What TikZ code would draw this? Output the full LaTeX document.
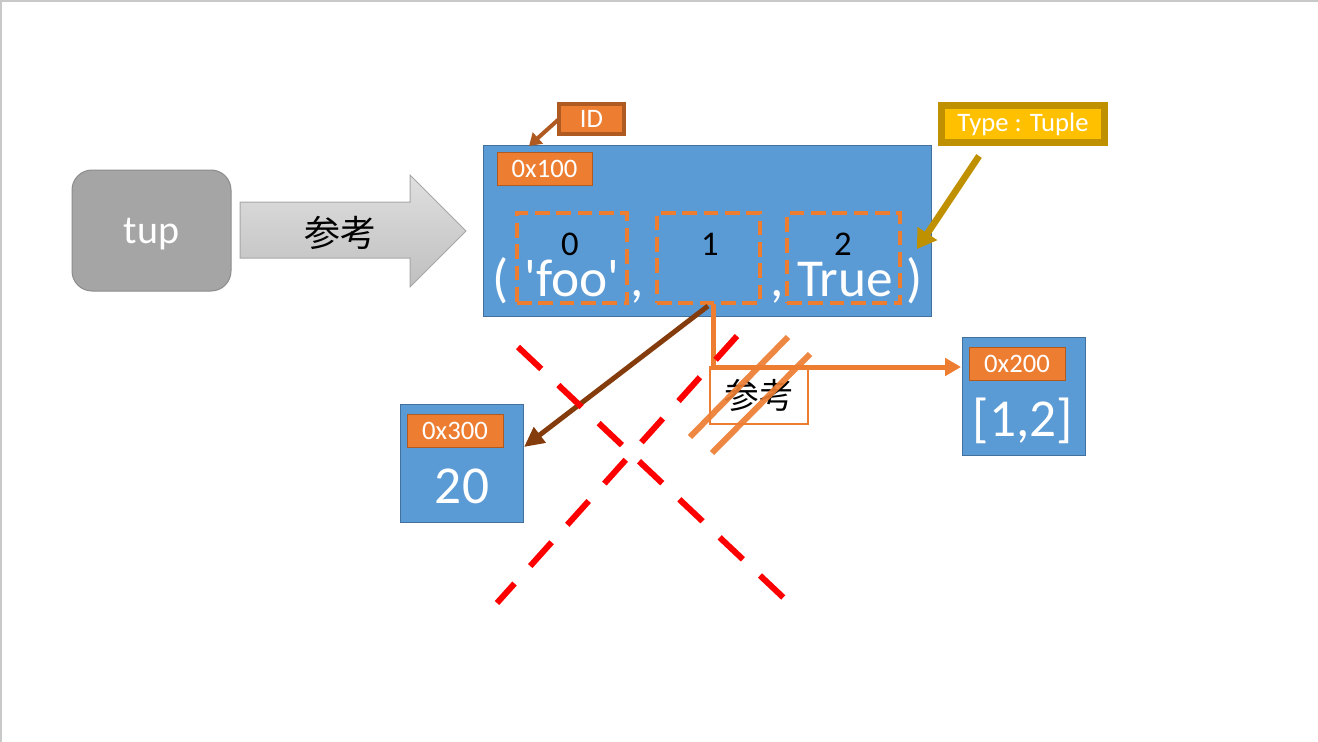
\documentclass[tikz,border=0pt]{standalone}
\usepackage{fontspec}
\setmainfont{Carlito}
\newfontfamily\cjk{Noto Sans CJK JP}
\usetikzlibrary{arrows.meta,fit}
\definecolor{blueF}{HTML}{5B9BD5}
\definecolor{blueB}{HTML}{41719C}
\definecolor{orangeC}{HTML}{ED7D31}
\definecolor{orangeB}{HTML}{AE5A21}
\definecolor{brownC}{HTML}{843C0C}
\definecolor{goldF}{HTML}{FFC000}
\definecolor{goldB}{HTML}{BF9000}
\definecolor{grayF}{HTML}{A5A5A5}
\definecolor{grayB}{HTML}{8C8C8C}
\definecolor{frameC}{HTML}{C8C8C8}
\begin{document}
\begin{tikzpicture}[x=0.75pt,y=-0.75pt,
  every node/.style={inner sep=0pt, outer sep=0pt},
  blk/.style={fill=blueF, draw=blueB, line width=0.75pt},
  addr/.style={fill=orangeC, draw=orangeB, line width=0.75pt},
  addrtxt/.style={text=white, font=\fontsize{20}{20}\selectfont},
  slot/.style={draw=orangeC, line width=3.5pt, dash pattern=on 11pt off 5pt},
  idx/.style={text=black, font=\fontsize{26}{26}\selectfont, anchor=base, text height=0.64em, text depth=0pt},
  big/.style={text=white, font=\fontsize{40}{40}\selectfont, anchor=base},
  tupl/.style={big, text height=0.68em},
  redx/.style={draw=red, line width=4.5pt, dash pattern=on 24pt off 17.6pt},
  strike/.style={draw=orangeC, line width=4.5pt, opacity=0.92},
]
\useasboundingbox (0,0) rectangle (1318,742);
\draw[frameC, line width=1.5pt] (1,742) -- (1,1) -- (1318,1);

% tup variable
\node[fit={(72,170) (231,291)}, fill=grayF, draw=grayB, line width=0.75pt, rounded corners=15pt] (tup) {};
\node[text=white, font=\fontsize{30}{30}\selectfont, anchor=base] (tuptxt) at (151.5,243) {tup};

% big reference arrow
\path[draw=gray!70, line width=0.75pt, top color=gray!25, bottom color=gray!50]
  (240,202) -- (410,202) -- (410,175) -- (466,231) -- (410,287) -- (410,258) -- (240,258) -- cycle;
\node[font=\cjk\fontsize{27}{27}\selectfont] (refA) at (340,233) {参考};

% main tuple block
\node[blk, fit={(483,145) (931,316)}] (tuple) {};
\node[addr, fit={(497,152) (592,185)}] (a100) {};
\node[addrtxt] (t100) at (a100.center) {0x100};

% ID label
\node[fit={(559,104) (624,134)}, fill=orangeC, draw=orangeB, line width=3pt] (id) {};
\node[text=white, font=\fontsize{20}{20}\selectfont] (idtxt) at (id.center) {ID};
\coordinate (idtip) at (529,146);
\draw[orangeB, line width=3pt, -{Triangle[length=9pt,width=11pt]}] (id.west) -- (idtip);

% Type label
\node[fit={(941.5,105.5) (1104.5,142.5)}, fill=goldF, draw=goldB, line width=5.25pt] (type) {};
\node[text=white, font=\fontsize{20}{20}\selectfont] (typetxt) at (type.center) {Type : Tuple};
\coordinate (typeS) at (979,156);
\coordinate (typeT) at (917,249);
\draw[goldB, line width=5pt, -{Triangle[length=14pt,width=17pt]}] (typeS) -- (typeT);

% slots
\node[slot, fit={(517,213) (627,303)}] (s0) {};
\node[slot, fit={(657,213) (760,303)}] (s1) {};
\node[slot, fit={(787,213) (900,303)}] (s2) {};
\node[idx] (i0) at (570,255) {0};
\node[idx] (i1) at (710,255) {1};
\node[idx] (i2) at (843,255) {2};

% tuple text
\node[tupl] (lp) at (501,296) {(};
\node[tupl] (foo) at (572,296) {\textquotesingle foo\textquotesingle};
\node[tupl] (c1) at (637,296) {,};
\node[tupl] (c2) at (777,296) {,};
\node[tupl] (tru) at (845,296) {True};
\node[tupl] (rp) at (915,296) {)};

% 0x300 block
\node[blk, fit={(400,404) (523,522)}] (b300) {};
\node[addr, fit={(407,414) (503,447)}] (a300) {};
\node[addrtxt] (t300) at (a300.center) {0x300};
\node[big, anchor=center] (v20) at (462,486) {20};

% 0x200 block
\node[blk, fit={(962,337) (1085,455)}] (b200) {};
\node[addr, fit={(969,347) (1065,380)}] (a200) {};
\node[addrtxt] (t200) at (a200.center) {0x200};
\node[big, anchor=center] (v12) at (1023,421) {[1,2]};

% reference label box
\node[fit={(710,367) (808,424)}, fill=white, draw=orangeC, line width=1.5pt] (refB) {};
\node[font=\cjk\fontsize{26}{26}\selectfont] (refBtxt) at (refB.center) {参考};

% orange connector to list
\coordinate (oS) at (713,304);
\coordinate (oK) at (713,367);
\coordinate (oT) at (961,367);
\draw[orangeC, line width=3.75pt, -{Triangle[length=12pt,width=13pt]}] (oS) -- (oK) -- (oT);

% brown connector to 20
\coordinate (bS) at (708,306);
\coordinate (bT) at (524,447);
\draw[brownC, line width=3.75pt, -{Triangle[length=15pt,width=14pt]}] (bS) -- (bT);

% strike lines
\coordinate (st1a) at (690,437);
\coordinate (st1b) at (788,337);
\coordinate (st2a) at (712,453);
\coordinate (st2b) at (810,354);
\draw[strike] (st1a) -- (st1b);
\draw[strike] (st2a) -- (st2b);

% red X
\coordinate (xa1) at (518,347);
\coordinate (xa2) at (787,601);
\coordinate (xb1) at (737,336);
\coordinate (xb2) at (497,603);
\draw[redx] (xa1) -- (xa2);
\draw[redx] (xb1) -- (xb2);
\end{tikzpicture}
\end{document}
